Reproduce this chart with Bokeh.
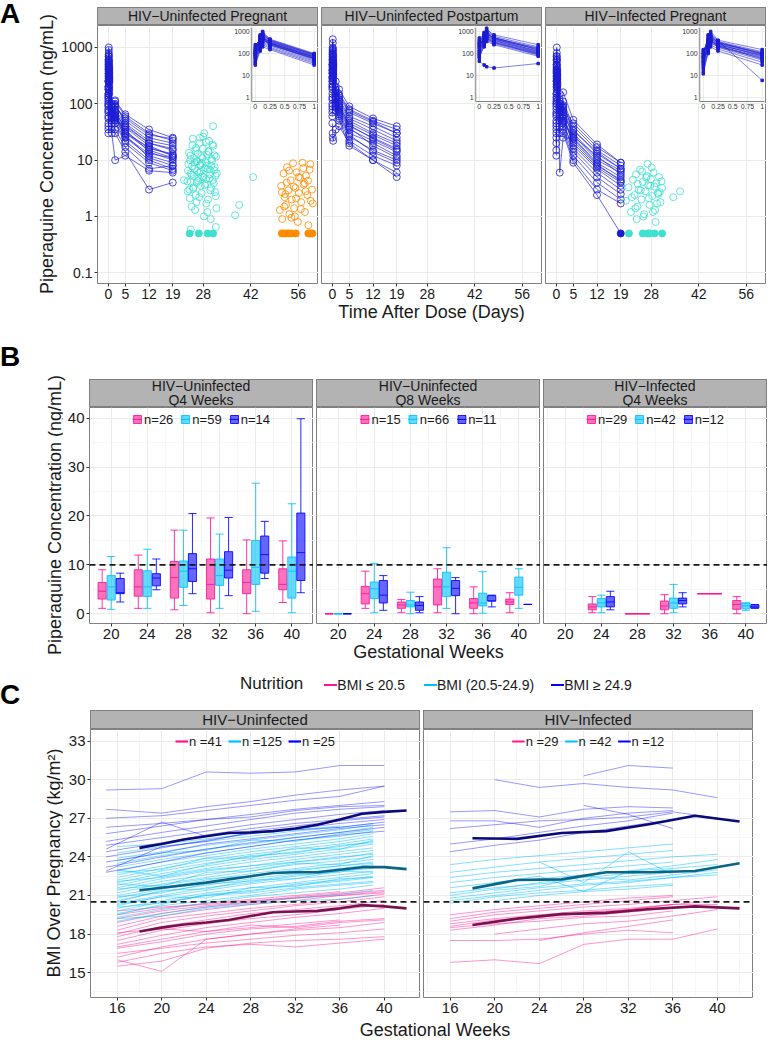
from bokeh.plotting import figure
from bokeh.layouts import row, column
from bokeh.models import (Div, Spacer, Range1d, LogScale, FixedTicker, Legend,
                          LegendItem, Span, ColumnDataSource, CustomJSTickFormatter)
from bokeh.transform import dodge
from bokeh.core.properties import value
from bokeh.embed import file_html
from bokeh.resources import INLINE

FONT = "Liberation Sans"
INK = "#1a1a1a"
NAN = float("nan")

# ======================= Panel A data =======================
A_titles = ["HIV−Uninfected Pregnant", "HIV−Uninfected Postpartum", "HIV−Infected Pregnant"]
A_xticks = [0, 5, 12, 19, 28, 42, 56]
A_yticks = [0.1, 1, 10, 100, 1000]
A_times = [0, 0.083, 0.125, 0.25, 1, 2, 5, 12, 19]
A_blq = 0.5
inset_xticks = [0, 0.25, 0.5, 0.75, 1]
inset_xlabels = ["0", "0.25", "0.5", "0.75", "1"]
inset_yticks = [1, 10, 100, 1000]
inset_ylabels = ["1", "10", "100", "1000"]

A1_conc = [
    [120, 450, 800, 420, 90, 110, 60, 30, 22],
    [80, 600, 900, 380, 85, 95, 50, 25, 20],
    [150, 350, 500, 300, 70, 80, 42, 20, 15],
    [60, 250, 650, 350, 75, 70, 38, 18, 12],
    [200, 500, 700, 400, 95, 100, 45, 22, 18],
    [45, 300, 450, 250, 60, 60, 30, 15, 11],
    [100, 700, 550, 330, 80, 75, 35, 14, 10],
    [35, 180, 400, 280, 55, 55, 25, 12, 9],
    [250, 400, 600, 300, 65, 65, 28, 11, 8],
    [90, 320, 480, 260, 50, 50, 22, 10, 7],
    [140, 550, 750, 360, 88, 90, 55, 28, 24],
    [70, 280, 350, 220, 45, 45, 20, 9, 6.5],
    [110, 420, 520, 310, 72, 68, 32, 16, 13],
    [55, 200, 300, 190, 40, 35, 17, 7, 8],
    [180, 380, 460, 270, 62, 58, 26, 13, 11],
    [40, 150, 250, 170, 35, 30, 14, 3, 4],
    [95, 260, 420, 240, 58, 52, 40, 20, 16],
    [130, 600, 1000, 450, 100, 115, 65, 35, 25],
    [30, 130, 200, 150, 30, 10, 12, 6.5, 6],
    [75, 340, 560, 290, 68, 62, 30, 17, 12],
]
A2_conc = [
    [300, 900, 1200, 700, 250, 180, 90, 55, 40],
    [200, 700, 1000, 600, 200, 150, 80, 50, 35],
    [400, 600, 800, 500, 180, 130, 70, 45, 30],
    [150, 500, 900, 450, 160, 120, 60, 40, 25],
    [100, 800, 1400, 550, 140, 110, 55, 35, 22],
    [250, 450, 700, 420, 130, 100, 50, 30, 20],
    [80, 400, 600, 380, 120, 90, 45, 28, 18],
    [350, 550, 650, 400, 110, 85, 40, 25, 16],
    [120, 350, 500, 330, 100, 75, 35, 22, 14],
    [60, 300, 450, 300, 95, 70, 30, 20, 12],
    [180, 650, 850, 480, 150, 95, 42, 24, 15],
    [90, 250, 400, 280, 85, 60, 26, 15, 10],
    [500, 750, 950, 520, 170, 140, 75, 48, 30],
    [70, 200, 350, 250, 75, 55, 22, 12, 8],
    [45, 30, 25, 22, 35, 40, 20, 10, 6],
    [220, 600, 750, 460, 125, 80, 38, 18, 11],
    [130, 450, 550, 350, 105, 65, 28, 14, 9],
    [280, 380, 480, 320, 90, 50, 18, 10, 5],
]
A3_conc = [
    [60, 700, 1000, 400, 150, 160, 52, 19, 9],
    [100, 500, 700, 350, 120, 110, 40, 15, 8],
    [30, 400, 600, 300, 100, 90, 35, 13, 7],
    [150, 300, 500, 280, 90, 80, 30, 11, 6.5],
    [20, 250, 450, 250, 80, 70, 28, 10, 6],
    [80, 350, 550, 320, 110, 75, 25, 9, 5],
    [45, 200, 400, 220, 70, 60, 22, 8, 4.5],
    [12, 150, 300, 200, 60, 55, 20, 7.5, 4],
    [70, 450, 650, 330, 95, 65, 18, 7, 3.5],
    [35, 180, 350, 190, 50, 45, 16, 6, 3],
    [110, 280, 380, 240, 85, 50, 14, 5, 2.5],
    [25, 120, 250, 160, 40, 40, 12, 4, 2],
    [50, 220, 420, 210, 65, 35, 10, 3, 1.7],
    [15, 100, 200, 130, 30, 30, 9, 2.4, 0.5],
    [90, 600, 800, 380, 6, 25, 24, 8.5, 4.2],
    [40, 320, 480, 270, 75, 85, 45, 17, 9],
    [65, 260, 360, 230, 55, 48, 26, 12, 5.5],
    [130, 380, 600, 300, 100, 95, 33, 14, 7],
]
A1_cyan_day = [
    23.3, 23.6, 24.0, 24.2, 24.5, 24.9, 25.1, 25.4, 25.7, 26.0, 26.3, 26.6, 26.9, 27.2, 27.5,
    27.8, 28.1, 28.3, 28.7, 29.0, 29.2, 29.6, 29.9, 30.1, 30.5, 30.8, 31.0, 31.4, 31.7, 32.0,
    23.5, 23.9, 24.1, 24.6, 24.8, 25.2, 25.5, 25.8, 26.1, 26.4, 26.7, 27.0, 27.3, 27.6, 27.9,
    28.2, 28.5, 28.8, 29.1, 29.4, 29.7, 30.0, 30.3, 30.6, 30.9, 31.2, 31.5, 31.8, 24.3, 27.1,
    23.4, 23.8, 24.3, 24.7, 25.0, 25.3, 25.6, 25.9, 26.2, 26.5, 26.8, 27.1, 27.4, 27.7, 28.0,
    28.4, 28.6, 28.9, 29.3, 29.5, 29.8, 30.2, 30.4, 30.7, 31.1, 31.3, 31.6, 31.9, 26.0, 28.8,
    22.3, 37.4, 38.6, 42.7, 24.3, 31.7, 24.0, 26.7, 29.3, 30.9]
A1_cyan_conc = [
    4.2, 8.5, 2.1, 12.0, 5.5, 24.0, 3.3, 7.0, 15.0, 1.8, 9.5, 4.8, 20.0, 6.2, 2.6,
    11.0, 5.0, 30.0, 3.8, 8.0, 1.2, 14.0, 6.8, 2.9, 10.5, 4.4, 18.0, 7.5, 2.3, 5.8,
    6.5, 3.0, 10.0, 1.5, 18.5, 5.2, 9.0, 2.4, 4.0, 13.0, 6.0, 25.0, 3.5, 8.8, 16.0,
    1.0, 7.2, 4.6, 12.5, 2.0, 22.0, 5.6, 3.2, 9.8, 40.0, 6.6, 2.7, 11.5, 4.1, 8.2,
    2.8, 13.5, 5.9, 7.8, 3.1, 10.8, 1.3, 16.5, 6.4, 4.3, 2.2, 8.3, 11.8, 5.1, 26.0,
    3.6, 9.2, 1.7, 6.9, 14.5, 4.7, 0.9, 7.9, 19.0, 3.9, 12.2, 5.3, 1.4, 9.6, 21.0,
    4.4, 1.05, 1.6, 5.0, 0.59, 0.65, 0.5, 0.5, 0.5, 0.5]
A1_orange_day = [
    50.6, 51.0, 51.3, 51.7, 52.0, 52.4, 52.7, 53.1, 53.4, 53.8, 54.1, 54.5, 54.8, 55.2, 55.5,
    55.9, 56.2, 56.6, 56.9, 57.3, 57.6, 58.0, 58.3, 58.7, 59.0, 59.4, 59.7, 60.1, 51.2, 51.9,
    52.6, 53.3, 54.0, 54.7, 55.4, 56.1, 56.8, 57.5, 58.2, 58.9, 59.6, 60.3, 52.2, 55.0, 57.9,
    51.2, 51.8, 52.5, 53.2, 54.0, 55.3, 59.0, 59.4, 59.8, 60.2]
A1_orange_conc = [
    1.3, 3.5, 0.9, 5.8, 2.2, 1.6, 7.5, 2.9, 1.1, 4.4, 2.0, 8.8, 1.4, 3.2, 6.1,
    0.8, 2.6, 4.9, 1.8, 9.0, 3.7, 1.2, 5.3, 2.4, 0.7, 6.8, 1.9, 3.0, 2.7, 1.5,
    4.0, 6.5, 0.95, 3.4, 2.1, 5.0, 1.35, 7.2, 2.8, 4.3, 8.5, 1.7, 2.5, 1.0, 3.9,
    0.5, 0.5, 0.5, 0.5, 0.5, 0.5, 0.5, 0.5, 0.5, 0.5]
A3_cyan_day = [
    20.5, 21.3, 22.0, 22.6, 23.1, 23.5, 23.9, 24.3, 24.7, 25.1, 25.5, 25.9, 26.3, 26.7, 27.1,
    27.5, 27.9, 28.3, 28.7, 29.1, 29.5, 29.9, 30.3, 30.7, 31.2, 22.3, 23.3, 24.0, 24.9, 25.7,
    26.5, 27.3, 28.1, 28.9, 29.7, 30.5, 31.0, 23.7, 25.3, 26.9, 28.5, 30.1, 34.5, 36.5, 27.7,
    29.3, 21.4, 25.5, 27.0, 27.5, 29.0, 31.2]
A3_cyan_conc = [
    1.9, 3.3, 1.2, 4.5, 2.4, 5.6, 1.5, 3.0, 6.8, 2.0, 4.1, 1.1, 2.8, 5.2, 3.6,
    1.6, 4.6, 2.3, 6.0, 1.3, 3.9, 2.6, 5.0, 1.8, 3.2, 2.2, 1.4, 3.8, 2.9, 1.0,
    4.9, 2.1, 7.4, 3.4, 1.7, 2.7, 4.2, 0.9, 6.3, 8.6, 1.2, 2.5, 2.2, 2.8, 3.5,
    0.8, 0.5, 0.5, 0.5, 0.5, 0.5, 0.5]

# ======================= Panel B data =======================
B_titles = [("HIV−Uninfected", "Q4 Weeks"), ("HIV−Uninfected", "Q8 Weeks"), ("HIV−Infected", "Q4 Weeks")]
B_weeks = [20, 24, 28, 32, 36, 40]
B_yticks = [0, 10, 20, 30, 40]
B_threshold = 10
B_n = [[26, 59, 14], [15, 66, 11], [29, 42, 12]]
# each entry: [low whisker, q1, median, q3, high whisker]
B1_pink = [[1.1, 3.0, 4.6, 6.4, 9.0], [1.1, 3.6, 5.5, 9.0, 12.0], [0.8, 3.2, 7.4, 10.7, 17.1],
           [0.2, 3.0, 6.0, 11.2, 19.6], [0.0, 4.1, 6.4, 9.0, 15.1], [2.3, 4.9, 6.0, 9.2, 14.9]]
B1_cyan = [[0.9, 2.8, 5.5, 7.8, 11.7], [1.1, 3.5, 5.5, 8.8, 13.2], [1.7, 5.4, 8.7, 10.8, 17.1],
           [1.1, 5.8, 7.8, 11.2, 16.3], [0.5, 6.0, 9.5, 15.0, 26.7], [0.2, 3.2, 8.7, 11.6, 22.5]]
B1_blue = [[2.4, 4.1, 4.3, 7.2, 8.3], [4.9, 5.7, 7.3, 8.2, 11.2], [4.1, 6.6, 9.2, 12.3, 20.5],
           [3.7, 7.3, 8.9, 12.7, 19.7], [7.2, 8.3, 12.1, 15.9, 18.9], [4.3, 6.8, 12.5, 20.6, 39.9]]
B2_pink = [[0, 0, 0, 0, 0], [1.1, 2.0, 4.1, 5.6, 8.7], [0.2, 1.1, 1.8, 2.4, 2.9],
           [0.2, 1.8, 5.5, 7.1, 9.2], [0.0, 1.1, 2.2, 3.1, 5.5], [0.2, 1.9, 2.4, 3.0, 4.3]]
B2_cyan = [[0, 0, 0, 0, 0], [0.2, 3.1, 5.1, 6.5, 10.3], [0.0, 1.4, 1.8, 2.7, 4.4],
           [1.1, 3.5, 5.5, 8.5, 13.5], [0.1, 1.6, 2.2, 4.2, 8.6], [1.1, 3.8, 5.4, 7.5, 9.2]]
B2_blue = [[0, 0, 0, 0, 0], [0.7, 2.2, 3.8, 6.8, 7.8], [0.2, 0.7, 1.7, 2.4, 3.5],
           [0.0, 3.7, 5.2, 6.8, 7.4], [1.4, 2.6, 2.6, 3.7, 3.8], [1.9, 1.9, 1.9, 1.9, 1.9]]
B3_pink = [None, [0.2, 0.8, 1.4, 2.0, 3.5], [0, 0, 0, 0, 0],
           [0.0, 0.8, 1.6, 2.6, 3.9], [4.1, 4.1, 4.1, 4.1, 4.1], [0.0, 0.9, 1.9, 2.7, 3.5]]
B3_cyan = [None, [0.2, 1.4, 2.2, 3.1, 3.8], None,
           [0.2, 1.1, 2.2, 3.2, 6.0], None, [0.7, 1.0, 1.6, 2.2, 2.2]]
B3_blue = [None, [0.8, 1.4, 2.4, 3.5, 4.6], None,
           [1.4, 2.0, 2.7, 3.2, 4.3], None, [1.1, 1.2, 1.4, 1.8, 1.9]]

# ======================= Panel C data =======================
C_titles = ["HIV−Uninfected", "HIV−Infected"]
C_groups = ["BMI ≤ 20.5", "BMI (20.5-24.9)", "BMI ≥ 24.9"]
C_xticks = [16, 20, 24, 28, 32, 36, 40]
C_yticks = [15, 18, 21, 24, 27, 30, 33]
C_threshold = 20.5
C_n = [[41, 125, 25], [29, 42, 12]]

C1_weeks_pink = [16, 20, 24, 28, 32, 36, 40]
C1_pink = [
    [15.8, 16.5, 17.0, 17.2, 17.0, 17.3, 17.6], [16.2, 17.0, 17.6, 18.0, 18.3, 18.5, 18.9],
    [16.9, 17.4, 18.0, 18.4, 18.6, 19.0, 19.2], [17.2, 17.9, 18.5, 18.9, 19.3, 19.6, 20.0],
    [17.5, 18.3, 18.8, 19.2, 19.5, 19.9, 20.3], [17.8, 18.6, 19.1, 19.6, 19.9, 20.2, 20.6],
    [18.0, 18.9, 19.4, 19.8, 20.2, 20.5, 20.9], [18.3, 19.2, 19.6, 20.0, 20.3, 20.7, 21.1],
    [18.6, 19.4, 19.9, 20.3, 20.6, 21.0, 21.3], [18.9, 19.6, 20.1, 20.4, 20.8, 21.1, 21.4],
    [19.2, 19.8, 20.2, 20.5, 20.9, 21.2, 21.6], [19.5, 20.0, 20.4, 20.7, 21.0, 21.3, None],
    [16.5, 16.9, 17.3, 17.6, 17.9, 18.1, 18.4], [17.0, 17.6, 18.2, 18.5, 18.8, 19.1, None],
    [15.5, 15.9, 16.9, 17.3, 17.5, 17.6, 17.8], [19.8, 20.1, 20.3, 20.6, 20.8, 21.0, 21.2],
    [18.1, 18.4, 18.2, 18.7, 18.5, 18.9, 19.1], [16.0, 15.1, 17.6, 18.0, 18.4, 18.7, None],
]
C1_weeks_cyan = [16, 20, 24, 28, 32, 36, 39]
C1_cyan = [
    [19.0, 19.6, 20.1, 20.5, 20.8, 21.1, 21.4], [19.3, 19.9, 20.4, 20.9, 21.2, 21.5, 21.8],
    [19.6, 20.2, 20.6, 21.0, 21.5, 21.8, 22.0], [19.8, 20.5, 21.0, 21.4, 21.8, 22.1, 22.4],
    [20.0, 20.6, 21.2, 21.6, 22.0, 22.4, 22.7], [20.2, 20.9, 21.4, 21.9, 22.3, 22.6, 22.9],
    [20.4, 21.0, 21.6, 22.0, 22.5, 22.9, 23.1], [20.6, 21.3, 21.8, 22.3, 22.7, 23.1, 23.4],
    [20.8, 21.5, 22.0, 22.5, 22.9, 23.3, 23.6], [21.0, 21.6, 22.2, 22.7, 23.1, 23.5, 23.8],
    [21.2, 21.9, 22.4, 22.9, 23.4, 23.7, 24.0], [21.4, 22.1, 22.6, 23.1, 23.6, 23.9, 24.3],
    [21.6, 22.3, 22.9, 23.3, 23.8, 24.2, 24.5], [21.8, 22.5, 23.1, 23.6, 24.0, 24.4, 24.7],
    [22.0, 22.7, 23.3, 23.8, 24.2, 24.6, 25.0], [22.2, 22.9, 23.5, 24.0, 24.4, 24.8, 25.2],
    [22.4, 23.1, 23.7, 24.2, 24.6, 25.0, 25.4], [22.6, 23.3, 23.9, 24.4, 24.8, 25.2, 25.6],
    [22.9, 23.6, 24.1, 24.6, 25.0, 25.4, 25.8], [23.2, 23.8, 24.3, 24.8, 25.3, 25.6, 26.0],
    [23.5, 24.1, 24.6, 25.0, 25.5, 25.9, 26.3], [23.9, 24.4, 24.9, 25.3, 25.7, 26.1, 26.5],
    [24.3, 24.8, 25.2, 25.6, 26.0, 26.3, 26.6], [24.8, 25.0, 25.4, 25.8, 26.1, 26.4, None],
    [20.1, 20.4, 21.0, 21.2, 21.6, 21.9, 22.1], [20.9, 21.2, 21.9, 22.1, 22.6, 22.8, 23.3],
    [21.5, 21.8, 22.3, 22.5, 23.0, 23.3, 23.5], [22.1, 22.4, 23.0, 23.3, 23.6, 24.0, 24.2],
    [19.5, 20.3, 21.1, 21.3, 21.9, 22.2, 22.5], [23.0, 22.5, 23.4, 24.1, 24.3, 24.9, 25.1],
    [19.2, 19.4, 20.0, 20.3, 20.6, 20.7, 21.0], [20.5, 21.4, 21.5, 22.2, 22.3, 22.9, 22.8],
    [21.9, 21.7, 22.8, 22.9, 23.5, 23.4, 24.1], [22.8, 23.0, 23.9, 23.9, 24.7, 24.6, 25.3],
    [23.7, 24.3, 24.5, 25.3, 25.2, 25.8, 26.1], [20.3, 20.9, 20.8, 21.6, 21.7, 22.3, 22.4],
]
C1_weeks_blue = [15, 20, 24, 28, 32, 36, 40]
C1_blue = [
    [29.2, 29.3, 30.6, 30.5, 30.6, 31.1, 31.1], [27.7, 27.4, 27.9, 28.3, 28.8, 29.2, 29.5],
    [27.0, 27.2, 27.6, 28.0, 28.4, 28.7, 29.5], [25.8, 26.4, 26.9, 27.3, 27.7, 28.0, 28.3],
    [25.2, 25.9, 26.4, 26.9, 27.4, 27.7, 27.9], [24.9, 25.5, 26.0, 26.5, 26.9, 27.3, 27.6],
    [24.4, 25.1, 25.7, 26.2, 26.6, 26.9, 27.2], [24.0, 24.7, 25.3, 25.8, 26.2, 26.6, 26.9],
    [23.6, 24.3, 25.0, 25.4, 25.8, 26.2, 26.5], [23.2, 24.0, 24.6, 25.1, 25.5, 25.9, 26.3],
    [22.8, 23.6, 24.3, 24.8, 25.3, 25.7, 26.0], [26.3, 26.6, 26.9, 27.1, 27.6, 27.9, 28.0],
    [24.6, 26.7, 25.6, 26.0, 26.4, 26.8, 27.1], [22.9, 24.8, 25.2, 25.9, 26.1, 26.3, 26.7],
]
C2_weeks = [16, 20, 24, 28, 32, 36, 40]
C2_pink = [
    [15.8, 16.0, 15.7, 17.2, 17.6, 17.6, 18.4], [17.5, 17.5, 17.6, 18.0, 18.3, 18.1, None],
    [18.5, 18.8, 19.0, 19.3, 19.4, 19.8, None], [18.8, 19.2, 19.5, 19.8, 20.0, 20.3, None],
    [19.0, 19.5, 19.8, 20.1, 20.3, 20.6, 20.9], [19.2, 19.7, 20.0, 20.3, 20.6, 20.9, None],
    [18.3, 18.7, 19.2, 19.4, 19.7, 20.0, None], [19.5, 19.9, 20.2, 20.5, 20.8, 21.0, None],
    [None, 18.0, 18.4, 18.8, 19.0, 19.4, 19.9], [None, 19.0, 19.4, 19.7, 19.9, 20.3, 20.6],
    [18.6, 19.1, 19.3, 19.6, 19.9, 20.3, 20.3], [None, None, 17.5, 18.1, 18.6, 19.1, None],
]
C2_cyan = [
    [20.4, 20.9, 21.2, 21.4, 21.7, 21.9, None], [20.8, 21.2, 21.6, 21.9, 22.1, 22.4, 22.6],
    [21.2, 21.6, 21.9, 22.2, 22.5, 22.8, None], [21.6, 22.0, 22.3, 22.6, 22.9, 23.1, 23.4],
    [22.0, 22.4, 22.7, 23.0, 23.3, 23.6, None], [22.4, 22.8, 23.1, 23.4, 23.7, 24.0, 24.2],
    [22.8, 23.2, 23.6, 23.9, 24.2, 24.5, None], [23.4, 23.8, 24.1, 24.4, 24.7, 25.0, None],
    [None, 21.4, 21.7, 22.5, 22.2, 22.6, 23.0], [None, 20.6, 21.0, 21.3, 21.5, 21.8, None],
    [None, None, 23.6, 22.0, 24.4, 22.6, None], [20.6, 21.0, 21.4, 21.8, 22.0, 22.4, 22.8],
    [None, 22.0, 22.5, 21.3, 22.9, 23.3, 23.8], [21.0, 21.5, 22.0, 22.4, 22.7, 23.0, None],
]
C2_blue = [
    [None, 30.0, 29.4, 29.7, 29.4, 29.2, 28.6], [None, None, None, 30.3, 31.1, 30.9, None],
    [27.5, 27.6, 27.1, 27.7, 27.9, 27.8, None], [26.8, 26.8, 26.3, 27.0, 27.4, 27.6, None],
    [26.2, 26.5, 26.8, 26.9, 27.1, 27.5, 27.0], [25.0, 25.4, 25.9, 26.4, 26.8, 27.4, None],
    [24.4, 24.9, 25.3, 25.9, 26.4, 26.9, None], [None, None, None, 28.0, 27.3, 26.2, None],
]
C1_mean_weeks = [18, 20, 22, 24, 26, 28, 30, 32, 34, 36, 38, 40, 42]
C1_mean_pink = [18.2, 18.5, 18.75, 18.9, 19.1, 19.4, 19.7, 19.75, 19.8, 20.0, 20.25, 20.15, 20.0]
C1_mean_cyan = [21.4, 21.6, 21.8, 22.0, 22.25, 22.5, 22.75, 22.8, 22.8, 23.0, 23.2, 23.2, 23.05]
C1_mean_blue = [24.7, 25.0, 25.35, 25.6, 25.85, 25.9, 26.0, 26.2, 26.5, 26.9, 27.35, 27.5, 27.6]
C2_mean_weeks = [18, 22, 26, 30, 34, 38, 42]
C2_mean_pink = [18.7, 19.2, 19.55, 19.65, 19.95, 20.15, 20.0]
C2_mean_cyan = [21.55, 22.2, 22.25, 22.8, 22.8, 22.9, 23.5]
C2_mean_blue = [25.45, 25.4, 25.85, 26.0, 26.55, 27.2, 26.75]

# ======================= styling =======================
A_BLUE, A_CYAN, A_ORANGE = "#1c1cd2", "#40E0D0", "#FF8C00"
G_COLORS = ["#FF1493", "#00BFFF", "#0000FF"]
C_MEAN = ["#7B1250", "#0B6385", "#0A0A78"]


def base_fig(fw, fh, xr, yr, left, bottom, ylog=False, show_y=True, **kw):
    p = figure(frame_width=fw, frame_height=fh, x_range=xr, y_range=yr,
               y_axis_type="log" if ylog else "linear",
               y_axis_location="left" if show_y else None,
               min_border_left=left, min_border_right=0, min_border_top=0,
               min_border_bottom=bottom, output_backend="svg",
               toolbar_location=None, title=None, **kw)
    p.outline_line_color = "#7f7f7f"
    p.outline_line_width = 1
    p.background_fill_color = "white"
    p.border_fill_color = "white"
    for g in list(p.xgrid) + list(p.ygrid):
        g.grid_line_color = "#ebebeb"
        g.grid_line_width = 1
        g.minor_grid_line_color = "#f4f4f4"
        g.minor_grid_line_width = 0.7
    return p


def style_axes(p, xt, yt, xminor=(), yminor=(), fs=14):
    xtk = FixedTicker(ticks=list(xt), minor_ticks=list(xminor))
    ytk = FixedTicker(ticks=list(yt), minor_ticks=list(yminor))
    for ax in p.xaxis:
        ax.ticker = xtk
    for ax in p.yaxis:
        ax.ticker = ytk
    for g in p.xgrid:
        g.ticker = xtk
    for g in p.ygrid:
        g.ticker = ytk
    for ax in list(p.xaxis) + list(p.yaxis):
        ax.axis_line_color = None
        ax.major_tick_in = 0
        ax.major_tick_out = 3
        ax.minor_tick_in = 0
        ax.minor_tick_out = 0
        ax.major_tick_line_color = "#333333"
        ax.major_label_text_font = FONT
        ax.major_label_text_font_size = f"{fs}px"
        ax.major_label_text_color = INK
        ax.major_label_standoff = 2
        ax.axis_label_text_font = FONT
        ax.axis_label_text_font_size = "18px"
        ax.axis_label_text_font_style = "normal"
        ax.axis_label_text_color = INK
        ax.axis_label_standoff = 0


def strip_div(lines, w, h, top, box_h, fs):
    text = "<br>".join(lines)
    html = (f'<div style="padding-top:{top}px;">'
            f'<div style="width:{w}px;height:{box_h}px;box-sizing:border-box;background:#b3b3b3;'
            f'border:1px solid #7f7f7f;display:flex;align-items:center;justify-content:center;'
            f'text-align:center;font-family:\'{FONT}\';font-size:{fs}px;line-height:{fs}px;color:{INK};">'
            f'{text}</div></div>')
    return Div(text=html, width=w, height=h, margin=0)


def left_div(letter, letter_top, title, cx, cy, w, h):
    html = (f'<div style="position:relative;width:{w}px;height:{h}px;font-family:\'{FONT}\';color:{INK};">'
            f'<div style="position:absolute;left:0px;top:{letter_top}px;font-size:28px;font-weight:bold;'
            f'line-height:1;color:#000;">{letter}</div>'
            f'<div style="position:absolute;left:{cx}px;top:{cy}px;transform:translate(-50%,-50%) rotate(-90deg);'
            f'white-space:nowrap;font-size:18px;line-height:1;">{title}</div></div>')
    return Div(text=html, width=w, height=h, margin=0)


def inset_range(d0, d1, f0, f1):
    span = (d1 - d0) / (f1 - f0)
    start = d0 - f0 * span
    return start, start + span


# ======================= Panel A =======================
A_FW, A_FH = 221, 258
IX = (-0.06, 1.04)
IY_LOG = (-0.18, 3.18)
ix0, ix1 = inset_range(IX[0], IX[1], 0.698, 0.991)
ly0, ly1 = inset_range(IY_LOG[0], IY_LOG[1], 1 - 76 / A_FH, 1 - 2 / A_FH)
IY = (10 ** IY_LOG[0], 10 ** IY_LOG[1])


def scatter_pts(p, xs, ys, col, **kw):
    xo = [x for x, y in zip(xs, ys) if y != A_blq]
    yo = [y for y in ys if y != A_blq]
    xf = [x for x, y in zip(xs, ys) if y == A_blq]
    yf = [y for y in ys if y == A_blq]
    p.scatter(xo, yo, marker="circle", size=7, fill_color=None, line_color=col,
              line_width=0.9, line_alpha=0.9, **kw)
    if xf:
        p.scatter(xf, yf, marker="circle", size=7, fill_color=col, line_color=col, **kw)


def panel_a(k, conc, extra):
    first = k == 0
    p = base_fig(A_FW, A_FH, Range1d(-3.2, 62), Range1d(10 ** -1.19, 10 ** 3.39),
                 left=39 if first else 3, bottom=46, ylog=True, show_y=first,
                 extra_x_ranges={"ix": Range1d(ix0, ix1)},
                 extra_y_ranges={"iy": Range1d(10 ** ly0, 10 ** ly1)},
                 extra_y_scales={"iy": LogScale()})
    style_axes(p, A_xticks, A_yticks, fs=14)
    if first:
        p.yaxis.formatter = CustomJSTickFormatter(
            code="return tick >= 1 ? tick.toFixed(0) : tick.toString();")
    if k == 1:
        p.xaxis.axis_label = "Time After Dose (Days)"
    p.multi_line(xs=[A_times for _ in conc], ys=conc, line_color=A_BLUE,
                 line_alpha=0.75, line_width=0.9)
    scatter_pts(p, [t for r in conc for t in A_times], [c for r in conc for c in r], A_BLUE)
    for days, vals, col in extra:
        scatter_pts(p, days, vals, col)
    # inset (first day after dose)
    ir = dict(x_range_name="ix", y_range_name="iy")
    p.quad(left=IX[0], right=IX[1], bottom=IY[0], top=IY[1], fill_color="white",
           line_color=None, **ir)
    p.segment(x0=inset_xticks, x1=inset_xticks, y0=[IY[0]] * len(inset_xticks),
              y1=[IY[1]] * len(inset_xticks), line_color="#e6e6e6", line_width=0.8, **ir)
    p.segment(x0=[IX[0]] * len(inset_yticks), x1=[IX[1]] * len(inset_yticks),
              y0=inset_yticks, y1=inset_yticks, line_color="#e6e6e6", line_width=0.8, **ir)
    p.segment(x0=[IX[0], IX[0]], x1=[IX[0], IX[1]], y0=[IY[0], IY[0]], y1=[IY[1], IY[0]],
              line_color="#808080", line_width=1, **ir)
    p.text(x=[IX[0]] * len(inset_yticks), y=inset_yticks, text=inset_ylabels, x_offset=-2,
           text_align="right", text_baseline="middle", text_font=value(FONT),
           text_font_size="7px", text_color="#333333", **ir)
    p.text(x=inset_xticks, y=[IY[0]] * len(inset_xticks), text=inset_xlabels, y_offset=2,
           text_align="center", text_baseline="top", text_font=value(FONT),
           text_font_size="7px", text_color="#333333", **ir)
    idx = [i for i, t in enumerate(A_times) if t <= 1]
    it = [A_times[i] for i in idx]
    iys = [[r[i] for i in idx] for r in conc]
    p.multi_line(xs=[it for _ in iys], ys=iys, line_color=A_BLUE, line_alpha=0.8,
                 line_width=0.7, **ir)
    p.scatter([t for _ in iys for t in it], [v for r in iys for v in r], marker="square",
              size=2.5, fill_color=A_BLUE, line_color=A_BLUE, **ir)
    return p


figsA = [
    panel_a(0, A1_conc, [(A1_cyan_day, A1_cyan_conc, A_CYAN), (A1_orange_day, A1_orange_conc, A_ORANGE)]),
    panel_a(1, A2_conc, []),
    panel_a(2, A3_conc, [(A3_cyan_day, A3_cyan_conc, A_CYAN)]),
]
headA = row(Spacer(width=39, height=25, margin=0),
            strip_div([A_titles[0]], A_FW, 25, 7, 18, 14), Spacer(width=3, height=25, margin=0),
            strip_div([A_titles[1]], A_FW, 25, 7, 18, 14), Spacer(width=3, height=25, margin=0),
            strip_div([A_titles[2]], A_FW, 25, 7, 18, 14))
rowA = row(left_div("A", 0, "Piperaquine Concentration (ng/mL)", 47, 25 + A_FH // 2, 58, 25 + A_FH + 46),
           column(headA, row(*figsA)))

# ======================= Panel B =======================
B_FW, B_FH = 224, 216
B_OFFSETS = [-1.0, 0.0, 1.0]


def panel_b(k, groups):
    first = k == 0
    p = base_fig(B_FW, B_FH, Range1d(17.6, 42.4), Range1d(-2.0, 42.2),
                 left=27 if first else 3, bottom=46, show_y=first)
    style_axes(p, B_weeks, B_yticks, xminor=[18, 22, 26, 30, 34, 38, 42],
               yminor=[5, 15, 25, 35], fs=15)
    if k == 1:
        p.xaxis.axis_label = "Gestational Weeks"
    present = [sum(1 for g in groups if g[i] is not None) for i in range(len(B_weeks))]
    legend_r = []
    for gi, (stats, col) in enumerate(zip(groups, G_COLORS)):
        for solo in (False, True):
            rows = [(w, s) for i, (w, s) in enumerate(zip(B_weeks, stats))
                    if s is not None and (present[i] == 1) == solo]
            if not rows:
                continue
            src = ColumnDataSource(dict(
                week=[w for w, _ in rows], lo=[s[0] for _, s in rows], q1=[s[1] for _, s in rows],
                med=[s[2] for _, s in rows], q3=[s[3] for _, s in rows], hi=[s[4] for _, s in rows]))
            off = 0.0 if solo else B_OFFSETS[gi]
            hw = 1.35 if solo else 0.45
            xc = dodge("week", off, range=p.x_range)
            xl = dodge("week", off - hw, range=p.x_range)
            xr = dodge("week", off + hw, range=p.x_range)
            kw = dict(source=src, line_color=col, line_alpha=0.85, line_width=1)
            p.segment(x0=xc, x1=xc, y0="lo", y1="q1", **kw)
            p.segment(x0=xc, x1=xc, y0="q3", y1="hi", **kw)
            p.segment(x0=xl, x1=xr, y0="lo", y1="lo", **kw)
            p.segment(x0=xl, x1=xr, y0="hi", y1="hi", **kw)
            rb = p.vbar(x=xc, width=2 * hw, bottom="q1", top="q3", fill_color=col,
                        fill_alpha=0.6, **kw)
            rm = p.segment(x0=xl, x1=xr, y0="med", y1="med", **kw)
            if not solo:
                legend_r.append([rb, rm])
    p.add_layout(Span(location=B_threshold, dimension="width", line_color="#1a1a1a",
                      line_dash="6 4", line_width=1.8))
    items = [LegendItem(label=f"n={n}", renderers=rs) for n, rs in zip(B_n[k], legend_r)]
    leg = Legend(items=items, orientation="horizontal", location="top_center",
                 background_fill_alpha=0, border_line_alpha=0, label_text_font=FONT,
                 label_text_font_size="13px", label_text_color=INK, glyph_width=10,
                 glyph_height=10, label_standoff=2, spacing=7, padding=2, margin=2,
                 label_height=16)
    p.add_layout(leg)
    return p


figsB = [panel_b(0, [B1_pink, B1_cyan, B1_blue]),
         panel_b(1, [B2_pink, B2_cyan, B2_blue]),
         panel_b(2, [B3_pink, B3_cyan, B3_blue])]
headB = row(Spacer(width=27, height=78, margin=0),
            strip_div(B_titles[0], B_FW, 78, 50, 28, 14), Spacer(width=3, height=78, margin=0),
            strip_div(B_titles[1], B_FW, 78, 50, 28, 14), Spacer(width=3, height=78, margin=0),
            strip_div(B_titles[2], B_FW, 78, 50, 28, 14))
rowB = row(left_div("B", 14, "Piperaquine Concentration (ng/mL)", 55, 78 + B_FH // 2, 62, 78 + B_FH + 46),
           column(headB, row(*figsB)))

# ======================= Panel C =======================
C_FW, C_FH = 330, 268


def panel_c(k, sets, mean_weeks, means):
    first = k == 0
    p = base_fig(C_FW, C_FH, Range1d(13.6, 43.25), Range1d(13.07, 33.9),
                 left=28 if first else 3, bottom=24, show_y=first)
    style_axes(p, C_xticks, C_yticks, xminor=[14, 18, 22, 26, 30, 34, 38, 42],
               yminor=[13.5, 16.5, 19.5, 22.5, 25.5, 28.5, 31.5], fs=15)
    for (weeks, rows), col, a in zip(sets, G_COLORS, [0.5, 0.55, 0.45]):
        xs = [[w for w, v in zip(weeks, r) if v is not None] for r in rows]
        ys = [[v for v in r if v is not None] for r in rows]
        p.multi_line(xs=xs, ys=ys, line_color=col, line_alpha=a, line_width=0.9)
    for m, col in zip(means, C_MEAN):
        p.line(mean_weeks, m, line_color=col, line_width=2.6)
    p.add_layout(Span(location=C_threshold, dimension="width", line_color="#1a1a1a",
                      line_dash="6 4", line_width=1.8))
    keys = [p.line([NAN], [NAN], line_color=col, line_width=2.2) for col in G_COLORS]
    items = [LegendItem(label=f"n ={n}", renderers=[r]) for n, r in zip(C_n[k], keys)]
    leg = Legend(items=items, orientation="horizontal", location="top_center",
                 background_fill_alpha=0, border_line_alpha=0, label_text_font=FONT,
                 label_text_font_size="13px", label_text_color=INK, glyph_width=13,
                 glyph_height=10, label_standoff=1, spacing=6, padding=2, margin=2,
                 label_height=16)
    p.add_layout(leg)
    return p


figsC = [
    panel_c(0, [(C1_weeks_pink, C1_pink), (C1_weeks_cyan, C1_cyan), (C1_weeks_blue, C1_blue)],
            C1_mean_weeks, [C1_mean_pink, C1_mean_cyan, C1_mean_blue]),
    panel_c(1, [(C2_weeks, C2_pink), (C2_weeks, C2_cyan), (C2_weeks, C2_blue)],
            C2_mean_weeks, [C2_mean_pink, C2_mean_cyan, C2_mean_blue]),
]

key = 'display:inline-block;width:13px;height:2px;background:{c};margin-left:{m}px;'
nut_html = (f'<div style="padding-left:178px;padding-top:11px;display:flex;align-items:center;'
            f'white-space:nowrap;font-family:\'{FONT}\';color:{INK};height:20px;">'
            f'<span style="font-size:17px;">Nutrition</span>'
            f'<span style="{key.format(c=G_COLORS[0], m=21)}"></span>'
            f'<span style="font-size:14px;">{C_groups[0]}</span>'
            f'<span style="{key.format(c=G_COLORS[1], m=19)}"></span>'
            f'<span style="font-size:14px;">{C_groups[1]}</span>'
            f'<span style="{key.format(c=G_COLORS[2], m=17)}"></span>'
            f'<span style="font-size:14px;">{C_groups[2]}</span></div>')
nut_div = Div(text=nut_html, width=698, height=41, margin=0)
headC = row(Spacer(width=28, height=19, margin=0),
            strip_div([C_titles[0]], C_FW, 19, 0, 19, 15), Spacer(width=3, height=19, margin=0),
            strip_div([C_titles[1]], C_FW, 19, 0, 19, 15))
rowC = row(left_div("C", 12, "BMI Over Pregnancy (kg/m²)", 54, 60 + C_FH // 2, 62, 60 + C_FH + 24),
           column(nut_div, headC, row(*figsC)))

title_html = (f'<div style="margin-left:285px;width:300px;text-align:center;font-family:\'{FONT}\';'
              f'font-size:18px;line-height:18px;color:{INK};">Gestational Weeks</div>')
titleC = Div(text=title_html, width=768, height=18, margin=0)

layout = column(rowA, rowB, rowC, titleC)
open("out.html", "w").write(file_html(layout, INLINE, title="Piperaquine"))
